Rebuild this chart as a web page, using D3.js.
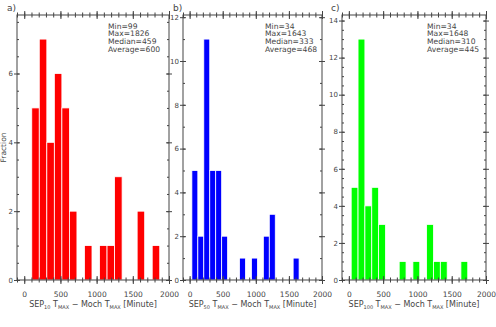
<!DOCTYPE html>
<html>
<head>
<meta charset="utf-8">
<script src="https://cdn.jsdelivr.net/npm/d3@7"></script>
<style>
  body { margin: 0; background: #fff; }
  text { font-family: "DejaVu Sans", sans-serif; fill: #444; }
</style>
</head>
<body>
<div id="viz"></div>
<script>
// histogram counts per bin
const countsA = [5, 7, 4, 6, 5, 2, 0, 1, 0, 1, 1, 3, 0, 0, 2, 0, 1];
const countsB = [5, 2, 11, 5, 5, 2, 0, 0, 1, 0, 1, 0, 2, 3, 0, 0, 0, 1];
const countsC = [5, 13, 4, 5, 3, 0, 0, 1, 0, 1, 0, 3, 1, 1, 0, 0, 1];

// first bin edge and bin width (minutes) for each panel
const binStart = [104, 34, 34];
const binWidth = [104, 90, 100];

const panelLabels = ["a)", "b)", "c)"];
const sepNames = ["10", "50", "100"];

const statsA = ["Min=99", "Max=1826", "Median=459", "Average=600"];
const statsB = ["Min=34", "Max=1643", "Median=333", "Average=468"];
const statsC = ["Min=34", "Max=1648", "Median=310", "Average=445"];

const xTicks = [0, 500, 1000, 1500, 2000];
const yTicksA = [0, 2, 4, 6];
const yTicksB = [0, 2, 4, 6, 8, 10, 12];
const yTicksC = [0, 2, 4, 6, 8, 10, 12, 14];

const colors = ["#ff0000", "#0000ff", "#00ff00"];

const W = 496, H = 327;
const plotTop = 15, plotBottom = 280;

const svg = d3.select("#viz")
    .append("svg")
    .attr("width", W)
    .attr("height", H);

// y title, only on the first panel
svg.append("text")
    .attr("transform", `translate(6,${(plotTop + plotBottom) / 2}) rotate(-90)`)
    .attr("text-anchor", "middle")
    .attr("font-size", 7.5)
    .text("Fraction");

function drawPanel(p) {
    const x = d3.scaleLinear().domain([-100, 2000]).range([p.left, p.right]);
    const yMax = d3.max(p.counts) * 1.1;
    const y = d3.scaleLinear().domain([0, yMax]).range([plotBottom, plotTop]);

    const g = svg.append("g");

    // bars
    g.selectAll("rect.bar")
        .data(p.counts.map((c, i) => ({ x0: p.start + i * p.width, c: c })).filter(d => d.c > 0))
        .join("rect")
        .attr("class", "bar")
        .attr("x", d => x(d.x0))
        .attr("width", d => x(d.x0 + p.width) - x(d.x0))
        .attr("y", d => y(d.c))
        .attr("height", d => y(0) - y(d.c))
        .attr("fill", p.color)
        .attr("stroke", "#fff")
        .attr("stroke-width", 0.8);

    // frame
    g.append("rect")
        .attr("x", p.left).attr("y", plotTop)
        .attr("width", p.right - p.left).attr("height", plotBottom - plotTop)
        .attr("fill", "none").attr("stroke", "#444").attr("stroke-width", 1);

    const minorX = d3.range(-100, 2001, 100);
    const minorY = d3.range(0, yMax, p.yMinor);

    function tickSet(axis, tr, labels) {
        const a = g.append("g").attr("transform", tr).call(axis);
        a.select(".domain").remove();
        a.selectAll("line").attr("stroke", "#444");
        if (!labels) a.selectAll("text").remove();
        return a;
    }

    // x ticks cross both bottom and top edges
    [plotBottom, plotTop].forEach(yy => {
        const lab = yy === plotBottom;
        const ax = tickSet(d3.axisBottom(x).tickValues(xTicks).tickSize(4).tickPadding(8).tickFormat(d3.format("d")), `translate(0,${yy})`, lab);
        if (lab) ax.selectAll("text").attr("font-size", 7.5).attr("fill", "#444").attr("font-family", "DejaVu Sans");
        tickSet(d3.axisTop(x).tickValues(xTicks).tickSize(4).tickFormat(""), `translate(0,${yy})`, false);
        tickSet(d3.axisBottom(x).tickValues(minorX).tickSize(2.5).tickFormat(""), `translate(0,${yy})`, false);
        tickSet(d3.axisTop(x).tickValues(minorX).tickSize(2.5).tickFormat(""), `translate(0,${yy})`, false);
    });

    // y ticks: majors cross, minors inward
    const ly = tickSet(d3.axisLeft(y).tickValues(p.yTicks).tickSize(3).tickPadding(p.yPad).tickFormat(d3.format("d")), `translate(${p.left},0)`, true);
    ly.selectAll("text").attr("font-size", 7).attr("fill", "#444").attr("font-family", "DejaVu Sans");
    tickSet(d3.axisRight(y).tickValues(p.yTicks).tickSize(3).tickFormat(""), `translate(${p.left},0)`, false);
    tickSet(d3.axisRight(y).tickValues(minorY).tickSize(2).tickFormat(""), `translate(${p.left},0)`, false);
    tickSet(d3.axisLeft(y).tickValues(p.yTicks).tickSize(3).tickFormat(""), `translate(${p.right},0)`, false);
    tickSet(d3.axisRight(y).tickValues(p.yTicks).tickSize(3).tickFormat(""), `translate(${p.right},0)`, false);
    tickSet(d3.axisLeft(y).tickValues(minorY).tickSize(2).tickFormat(""), `translate(${p.right},0)`, false);

    // panel letter
    g.append("text")
        .attr("x", p.labelX).attr("y", 11)
        .attr("font-size", 9)
        .text(p.label);

    // stats box
    g.append("g")
        .selectAll("text")
        .data(p.stats)
        .join("text")
        .attr("x", p.right - p.statsOff)
        .attr("y", (d, i) => 28.5 + i * 7.9)
        .attr("font-size", 7.6)
        .text(d => d);

    // x title with subscripts
    const t = g.append("text")
        .attr("x", (p.left + p.right) / 2)
        .attr("y", 307)
        .attr("text-anchor", "middle")
        .attr("font-size", 8);
    t.append("tspan").text("SEP");
    t.append("tspan").attr("font-size", 5).attr("dy", 1.5).text(p.sep);
    t.append("tspan").attr("dy", -1.5).text(" T");
    t.append("tspan").attr("font-size", 5).attr("dy", 1.5).text("MAX");
    t.append("tspan").attr("dy", -1.5).text(" \u2212 Moch T");
    t.append("tspan").attr("font-size", 5).attr("dy", 1.5).text("MAX");
    t.append("tspan").attr("dy", -1.5).text("  [Minute]");
}

const panels = [
    { left: 17, right: 169, counts: countsA, start: binStart[0], width: binWidth[0], color: colors[0],
      yTicks: yTicksA, yMinor: 0.5, yPad: 1, label: panelLabels[0], labelX: 7, stats: statsA, statsOff: 61, sep: sepNames[0] },
    { left: 183, right: 322, counts: countsB, start: binStart[1], width: binWidth[1], color: colors[1],
      yTicks: yTicksB, yMinor: 1, yPad: 1, label: panelLabels[1], labelX: 173, stats: statsB, statsOff: 57, sep: sepNames[1] },
    { left: 342, right: 486, counts: countsC, start: binStart[2], width: binWidth[2], color: colors[2],
      yTicks: yTicksC, yMinor: 0.5, yPad: 1, label: panelLabels[2], labelX: 331, stats: statsC, statsOff: 59, sep: sepNames[2] }
];

panels.forEach(drawPanel);
</script>
</body>
</html>
